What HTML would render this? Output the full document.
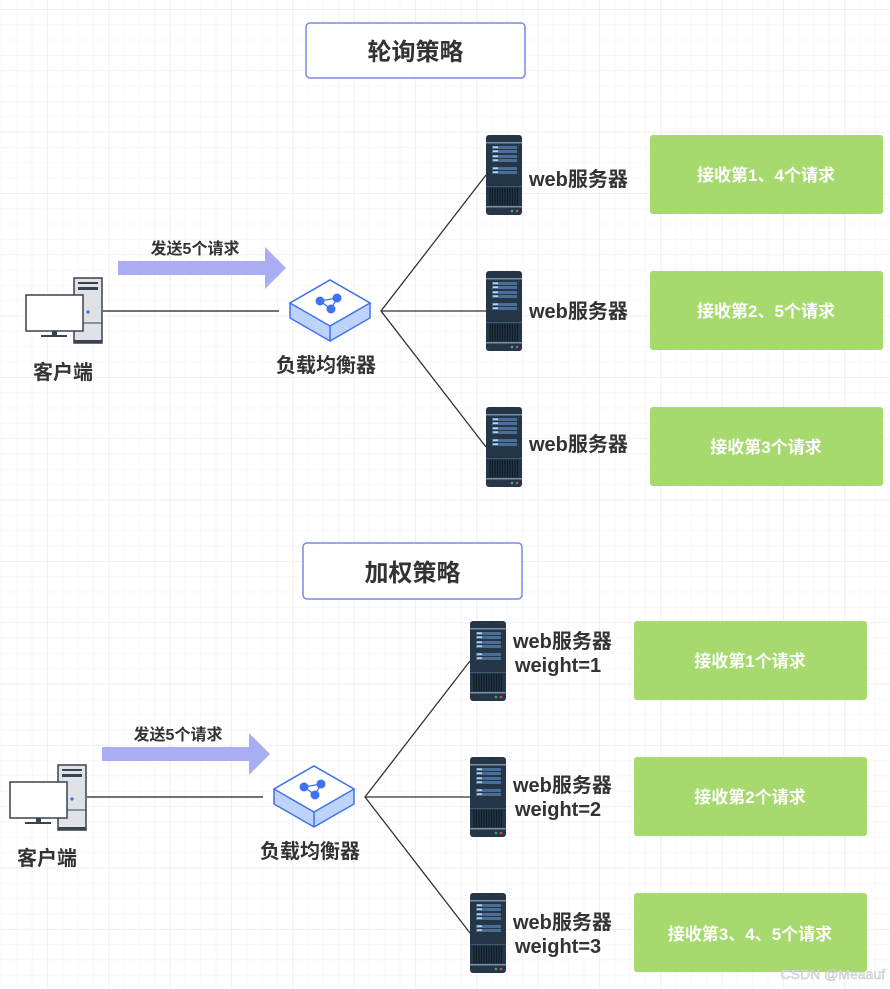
<!DOCTYPE html>
<html><head><meta charset="utf-8"><style>
html,body{margin:0;padding:0;}
body{width:890px;height:989px;overflow:hidden;background:#fff;font-family:"Liberation Sans","Noto Sans CJK SC",sans-serif;}
</style></head><body>
<svg width="890" height="989" viewBox="0 0 890 989" xmlns="http://www.w3.org/2000/svg" style="position:absolute;left:0;top:0">
<defs>
<pattern id="minor" x="1" y="9" width="15.33" height="15.33" patternUnits="userSpaceOnUse">
<path d="M0 0H15.33M0 0V15.33" stroke="#f6f6f6" stroke-width="1.6" fill="none"/>
</pattern>
<pattern id="major" x="-14.3" y="9" width="61.33" height="61.33" patternUnits="userSpaceOnUse">
<path d="M0 0H61.33M0 0V61.33" stroke="#efefef" stroke-width="1.8" fill="none"/>
</pattern>
<g id="server">
<rect x="0" y="0" width="36" height="80" rx="3" fill="#253648"/>
<rect x="0" y="7" width="36" height="1.5" fill="#7c8ea2"/>
<rect x="6" y="11" width="25" height="3" fill="#4a6e98"/>
<rect x="6" y="15" width="25" height="3" fill="#4a6e98"/>
<rect x="6" y="20" width="25" height="3" fill="#4a6e98"/>
<rect x="6" y="24" width="25" height="3" fill="#4a6e98"/>
<rect x="6" y="32" width="25" height="3" fill="#4a6e98"/>
<rect x="6" y="36" width="25" height="3" fill="#4a6e98"/>
<rect x="7" y="11.5" width="5" height="1.3" fill="#dfe8f2"/>
<rect x="7" y="15.5" width="5" height="1.3" fill="#dfe8f2"/>
<rect x="7" y="20.5" width="5" height="1.3" fill="#dfe8f2"/>
<rect x="7" y="24.5" width="5" height="1.3" fill="#dfe8f2"/>
<rect x="7" y="32.5" width="5" height="1.3" fill="#dfe8f2"/>
<rect x="7" y="36.5" width="5" height="1.3" fill="#dfe8f2"/>
<rect x="0" y="51" width="36" height="1" fill="#3c5672"/>
<path d="M4 53V70M6.5 53V70M9 53V70M11.5 53V70M14 53V70M16.5 53V70M19 53V70M21.5 53V70M24 53V70M26.5 53V70M29 53V70M31.5 53V70" stroke="#0f1b27" stroke-width="1.2"/>
<rect x="0" y="71" width="36" height="1.5" fill="#7c8ea2"/>
<circle cx="26" cy="76" r="1.3" fill="#3fae6a"/>
<circle cx="31" cy="76" r="1.3" fill="#d04a5c"/>
</g>
<g id="client">
<rect x="49" y="0" width="28" height="65" fill="#dfe2e7" stroke="#39424e" stroke-width="1.5"/>
<rect x="49" y="62" width="28" height="3" fill="#39424e"/>
<rect x="53" y="4" width="20" height="2" fill="#39424e"/>
<rect x="53" y="9" width="20" height="3" fill="#39424e"/>
<line x1="49" y1="45" x2="77" y2="45" stroke="#39424e" stroke-width="1"/>
<circle cx="63" cy="34" r="1.6" fill="#3b6fe0"/>
<rect x="1" y="17" width="57" height="36" fill="#fff" stroke="#39424e" stroke-width="1.5"/>
<rect x="27" y="53" width="5" height="4" fill="#39424e"/>
<rect x="16" y="57" width="26" height="2" fill="#39424e"/>
</g>
<g id="lb">
<path d="M0 23L40 0L80 23V38L40 61L0 38Z" fill="#bdd3fb" stroke="#3f73ee" stroke-width="1.5"/>
<path d="M0 23L40 46L80 23L40 0Z" fill="#fff" stroke="#3f73ee" stroke-width="1.5"/>
<line x1="40" y1="46" x2="40" y2="61" stroke="#3f73ee" stroke-width="1.5"/>
<path d="M30 21L47 18L41 29Z" fill="none" stroke="#3f73ee" stroke-width="1.3"/>
<circle cx="30" cy="21" r="4.5" fill="#3f73ee"/>
<circle cx="47" cy="18" r="4.5" fill="#3f73ee"/>
<circle cx="41" cy="29" r="4.5" fill="#3f73ee"/>
</g>
</defs>
<rect width="890" height="989" fill="#fff"/>
<rect width="890" height="989" fill="url(#minor)"/>
<rect width="890" height="989" fill="url(#major)"/>

<!-- TOP -->
<rect x="306" y="23" width="219" height="55" rx="4" fill="#fff" stroke="#7b88e4" stroke-width="1.5"/>
<text x="415.5" y="60" font-size="24" font-weight="bold" fill="#333" text-anchor="middle">轮询策略</text>
<use href="#client" x="25" y="278"/>
<text x="63" y="379" font-size="20" font-weight="bold" fill="#333" text-anchor="middle">客户端</text>
<path d="M118 261H265V247L286 268L265 289V275H118Z" fill="#a9aef2"/>
<text x="195" y="254" font-size="16" font-weight="bold" fill="#333" text-anchor="middle">发送5个请求</text>
<line x1="103" y1="311" x2="279" y2="311" stroke="#444" stroke-width="1.5"/>
<use href="#lb" x="290" y="280"/>
<text x="326" y="372" font-size="20" font-weight="bold" fill="#333" text-anchor="middle">负载均衡器</text>
<path d="M486 175L381 311L486 447M381 311H486" stroke="#333" stroke-width="1.3" fill="none"/>
<use href="#server" x="486" y="135"/>
<use href="#server" x="486" y="271"/>
<use href="#server" x="486" y="407"/>
<text x="529" y="186" font-size="20" font-weight="bold" fill="#333">web服务器</text>
<text x="529" y="318" font-size="20" font-weight="bold" fill="#333">web服务器</text>
<text x="529" y="451" font-size="20" font-weight="bold" fill="#333">web服务器</text>
<rect x="650" y="135" width="233" height="79" rx="3" fill="#a6d96e"/>
<rect x="650" y="271" width="233" height="79" rx="3" fill="#a6d96e"/>
<rect x="650" y="407" width="233" height="79" rx="3" fill="#a6d96e"/>
<text x="766" y="181" font-size="17" font-weight="bold" fill="#fff" text-anchor="middle">接收第1、4个请求</text>
<text x="766" y="317" font-size="17" font-weight="bold" fill="#fff" text-anchor="middle">接收第2、5个请求</text>
<text x="766" y="453" font-size="17" font-weight="bold" fill="#fff" text-anchor="middle">接收第3个请求</text>

<!-- BOTTOM -->
<rect x="303" y="543" width="219" height="56" rx="4" fill="#fff" stroke="#7b88e4" stroke-width="1.5"/>
<text x="412.5" y="581" font-size="24" font-weight="bold" fill="#333" text-anchor="middle">加权策略</text>
<use href="#client" x="9" y="765"/>
<text x="47" y="865" font-size="20" font-weight="bold" fill="#333" text-anchor="middle">客户端</text>
<path d="M102 747H249V733L270 754L249 775V761H102Z" fill="#a9aef2"/>
<text x="178" y="740" font-size="16" font-weight="bold" fill="#333" text-anchor="middle">发送5个请求</text>
<line x1="87" y1="797" x2="263" y2="797" stroke="#444" stroke-width="1.5"/>
<use href="#lb" x="274" y="766"/>
<text x="310" y="858" font-size="20" font-weight="bold" fill="#333" text-anchor="middle">负载均衡器</text>
<path d="M470 661L365 797L470 933M365 797H470" stroke="#333" stroke-width="1.3" fill="none"/>
<use href="#server" x="470" y="621"/>
<use href="#server" x="470" y="757"/>
<use href="#server" x="470" y="893"/>
<text x="513" y="648" font-size="20" font-weight="bold" fill="#333">web服务器</text>
<text x="515" y="672" font-size="20" font-weight="bold" fill="#333">weight=1</text>
<text x="513" y="792" font-size="20" font-weight="bold" fill="#333">web服务器</text>
<text x="515" y="816" font-size="20" font-weight="bold" fill="#333">weight=2</text>
<text x="513" y="929" font-size="20" font-weight="bold" fill="#333">web服务器</text>
<text x="515" y="953" font-size="20" font-weight="bold" fill="#333">weight=3</text>
<rect x="634" y="621" width="233" height="79" rx="3" fill="#a6d96e"/>
<rect x="634" y="757" width="233" height="79" rx="3" fill="#a6d96e"/>
<rect x="634" y="893" width="233" height="79" rx="3" fill="#a6d96e"/>
<text x="750" y="667" font-size="17" font-weight="bold" fill="#fff" text-anchor="middle">接收第1个请求</text>
<text x="750" y="803" font-size="17" font-weight="bold" fill="#fff" text-anchor="middle">接收第2个请求</text>
<text x="750" y="940" font-size="17" font-weight="bold" fill="#fff" text-anchor="middle">接收第3、4、5个请求</text>
<text x="885" y="979" font-size="14" fill="#e8e8e8" stroke="#bbb" stroke-width="0.4" text-anchor="end">CSDN @Meaauf</text>
</svg>
</body></html>
